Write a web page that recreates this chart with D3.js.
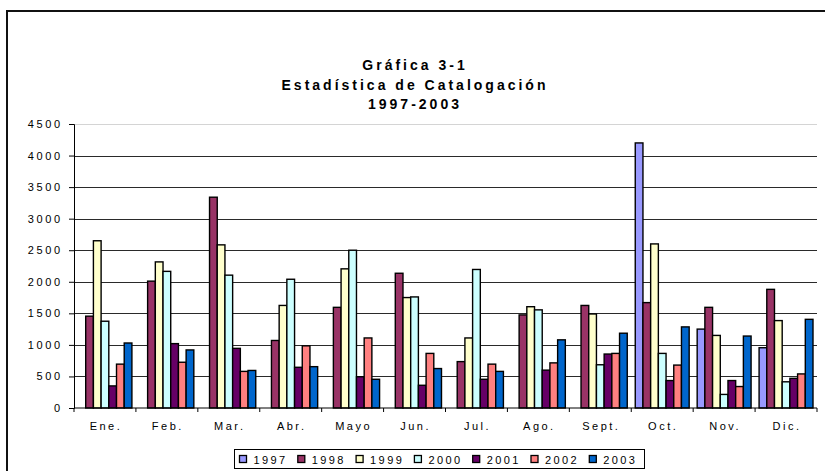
<!DOCTYPE html>
<html>
<head>
<meta charset="utf-8">
<script src="https://cdn.jsdelivr.net/npm/d3@7"></script>
<style>
  body { margin: 0; background: #fff; }
  svg { display: block; font-family: Arial, "Liberation Sans", sans-serif; }
</style>
</head>
<body>
<div id="app"></div>
<script>
const months = ['Ene.', 'Feb.', 'Mar.', 'Abr.', 'Mayo', 'Jun.', 'Jul.', 'Ago.', 'Sept.', 'Oct.', 'Nov.', 'Dic.']
const years = ['1997', '1998', '1999', '2000', '2001', '2002', '2003']
const v1997 = [0, 0, 0, 0, 0, 0, 0, 0, 0, 4200, 1250, 955]
const v1998 = [1455, 2010, 3340, 1070, 1595, 2135, 735, 1475, 1625, 1670, 1595, 1880]
const v1999 = [2650, 2315, 2585, 1625, 2205, 1750, 1110, 1605, 1490, 2600, 1150, 1385]
const v2000 = [1375, 2165, 2105, 2040, 2500, 1760, 2195, 1555, 685, 865, 215, 415]
const v2001 = [350, 1020, 945, 645, 495, 360, 455, 600, 855, 435, 435, 470]
const v2002 = [695, 725, 580, 985, 1110, 865, 695, 715, 865, 680, 340, 540]
const v2003 = [1030, 920, 595, 655, 455, 625, 580, 1080, 1185, 1285, 1140, 1405]
const yTicks = [0, 500, 1000, 1500, 2000, 2500, 3000, 3500, 4000, 4500]
const colors = ['#9999ff', '#993366', '#ffffcc', '#ccffff', '#660066', '#ff8080', '#0066cc']

const series = [v1997, v1998, v1999, v2000, v2001, v2002, v2003]
const W = 825, H = 471
const svg = d3.select('#app').append('svg').attr('width', W).attr('height', H)

// outer chart frame
svg.append('rect').attr('x', 7).attr('y', 11).attr('width', 900).attr('height', 500)
  .attr('fill', 'none').attr('stroke', '#111').attr('stroke-width', 2)

// title
const title = ['Gráfica 3-1', 'Estadística de Catalogación', '1997-2003']
svg.selectAll('text.title').data(title).enter().append('text')
  .attr('class', 'title')
  .attr('x', 415).attr('y', (d, i) => 70 + i * 19.5)
  .attr('text-anchor', 'middle')
  .style('font-size', '14px').style('font-weight', 'bold').style('letter-spacing', '3px')
  .text(d => d)

const pLeft = 74, pRight = 817, pTop = 124, pBottom = 408
const x0 = d3.scaleBand().domain(months).range([pLeft, pRight])
const x1 = d3.scaleBand().domain(years).range([0, x0.bandwidth()]).paddingOuter(0.52)
const y = d3.scaleLinear().domain([0, 4500]).range([pBottom, pTop])

// gridlines
svg.append('g').selectAll('line').data(yTicks.slice(1)).enter().append('line')
  .attr('x1', pLeft).attr('x2', pRight)
  .attr('y1', d => Math.round(y(d)) + 0.5).attr('y2', d => Math.round(y(d)) + 0.5)
  .attr('stroke', d => d === 4500 ? '#d4d4d4' : '#2a2a2a').attr('stroke-width', 1)

// bars
const g = svg.append('g')
months.forEach((m, i) => {
  years.forEach((yr, j) => {
    const v = series[j][i]
    if (!v) return
    g.append('rect')
      .attr('x', x0(m) + x1(yr))
      .attr('y', y(v))
      .attr('width', x1.bandwidth())
      .attr('height', pBottom - y(v))
      .attr('fill', colors[j])
      .attr('stroke', '#000').attr('stroke-width', 1.4)
  })
})

// y axis
const yAxis = d3.axisLeft(y).tickValues(yTicks).tickSize(5).tickPadding(9).tickFormat(d3.format('d'))
const ya = svg.append('g').attr('transform', `translate(${pLeft},0)`).call(yAxis)
ya.select('.domain').attr('stroke', '#000')
ya.selectAll('text').style('font-size', '11px').style('letter-spacing', '2.6px').attr('dx', '2.6px').attr('fill', '#000')

// x axis
const xa = svg.append('g').attr('transform', `translate(0,${pBottom})`)
xa.append('line').attr('x1', pLeft).attr('x2', pRight).attr('stroke', '#000')
xa.selectAll('line.tick').data(months.map(m => x0(m)).concat([pRight])).enter().append('line')
  .attr('class', 'tick')
  .attr('x1', d => d).attr('x2', d => d).attr('y1', 0).attr('y2', 4).attr('stroke', '#000')
xa.selectAll('text').data(months).enter().append('text')
  .attr('x', d => x0(d) + x0.bandwidth() / 2 + 1).attr('y', 22)
  .attr('text-anchor', 'middle')
  .style('font-size', '11px').style('letter-spacing', '2.5px')
  .text(d => d)

// legend
const lg = svg.append('g')
lg.append('rect').attr('x', 234.5).attr('y', 449.5).attr('width', 410).attr('height', 19)
  .attr('fill', '#fff').attr('stroke', '#000')
const items = lg.selectAll('g.item').data(years).enter().append('g')
  .attr('class', 'item')
  .attr('transform', (d, i) => `translate(${239.5 + i * 58.3},455.5)`)
items.append('rect').attr('width', 7).attr('height', 7)
  .attr('fill', (d, i) => colors[i]).attr('stroke', '#000').attr('stroke-width', 1.3)
items.append('text').attr('x', 14).attr('y', 8)
  .style('font-size', '11px').style('letter-spacing', '2.4px')
  .text(d => d)
</script>
</body>
</html>
